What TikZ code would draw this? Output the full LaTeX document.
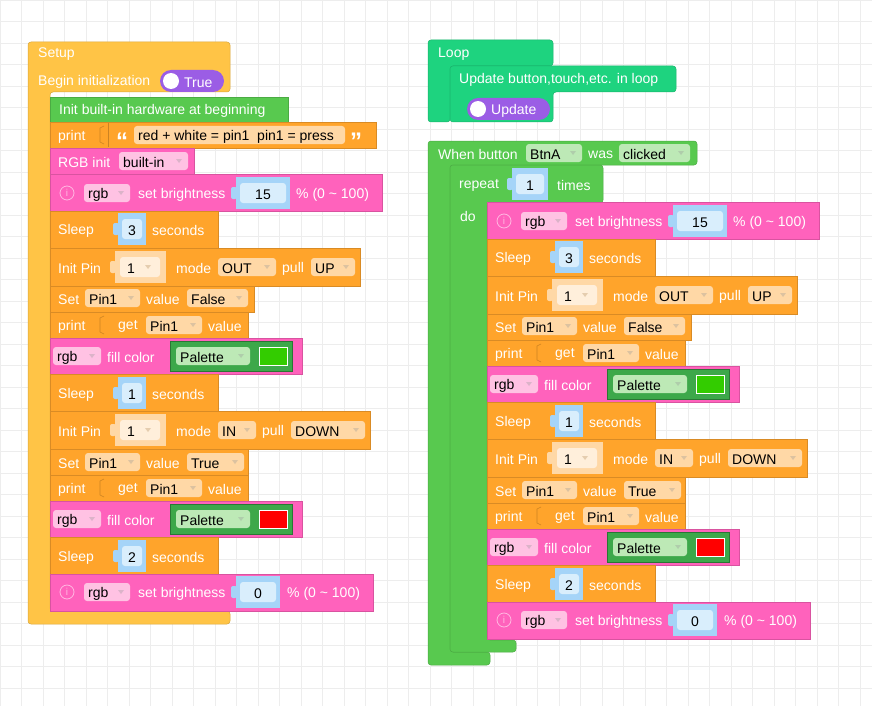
\documentclass[tikz,border=0pt]{standalone}
\usepackage{fontspec}
\setmainfont{Liberation Sans}
\begin{document}
\definecolor{cOr}{HTML}{FFA42B}
\definecolor{cYe}{HTML}{FFC446}
\definecolor{cGr}{HTML}{58C94F}
\definecolor{cPk}{HTML}{FF62BC}
\definecolor{cTe}{HTML}{1ED37F}
\definecolor{cPu}{HTML}{9B5DE5}
\definecolor{cBl}{HTML}{A5D4F8}
\definecolor{cBi}{HTML}{D9EEFC}
\definecolor{dOr}{HTML}{FFD8A6}
\definecolor{dPk}{HTML}{FFC2E3}
\definecolor{dGr}{HTML}{BDE9B6}
\definecolor{cPal}{HTML}{3DA84A}
\definecolor{cGrn}{HTML}{33CC00}
\tikzset{txt/.style={anchor=west,inner sep=0pt,yshift=-1.5pt,text=white,font=\fontsize{14}{16}\selectfont},
 btx/.style={anchor=west,inner sep=0pt,yshift=-1.5pt,text=black,font=\fontsize{14}{16}\selectfont},
 quo/.style={anchor=west,inner sep=0pt,text=white,font=\fontsize{24}{24}\selectfont\bfseries},
 blk/.style={draw=#1!85!black,line width=0.5pt,fill=#1}}
\newcommand\Blk[5]{\path[blk=#1] (#2,#3) rectangle (#4,#5);}
\newcommand\Tx[3]{\node[txt] at (#1,#2) {#3};}
\newcommand\Dd[5]{\fill[#5,rounded corners=3pt] (#1,#3-9) rectangle (#2,#3+9);
 \node[btx] at (#1+4,#3) {#4};
 \fill[white!60!#5!70!black,opacity=0.45] (#2-12,#3-2) -- (#2-6,#3-2) -- (#2-9,#3+2) -- cycle;}
\newcommand\Nm[4]{\fill[cBl] (#1,#3-16) rectangle (#2,#3+16);
 \fill[cBl,rounded corners=2pt] (#1-5,#3-6) rectangle (#1+1,#3+6);
 \fill[cBi,rounded corners=3pt] (#1+4,#3-10) rectangle (#2-4,#3+10);
 \node[btx,anchor=center] at ({(#1+#2)/2},#3) {#4};}
\newcommand\Pn[3]{\fill[dOr] (#1,#2-16) rectangle (#1+51,#2+16);
 \fill[dOr,rounded corners=2pt] (#1-5,#2-6) rectangle (#1+1,#2+6);
 \fill[white!60!dOr,rounded corners=3pt] (#1+5,#2-10) rectangle (#1+45,#2+10);
 \node[btx] at (#1+12,#2) {#3};
 \fill[dOr!80!black,opacity=0.5] (#1+30,#2-2) -- (#1+36,#2-2) -- (#1+33,#2+2) -- cycle;}
\newcommand\Inf[1]{\draw[white!55!cPk,line width=0.8pt] (67,#1) circle (7);
 \node[text=white!55!cPk,inner sep=0,font=\fontsize{10}{10}\selectfont] at (67,#1) {i};}
\newcommand\Tg[4]{\fill[cPu,rounded corners=11pt] (#1,#3-11) rectangle (#2,#3+11);
 \fill[white] (#1+11,#3) circle (8);
 \node[txt] at (#1+24,#3) {#4};}
\newcommand\Bright[3]{% y top bottom
 \Blk{cPk}{50}{#2}{382}{#3}
 \Inf{#1}\Dd{84}{130}{#1}{rgb}{dPk}\Tx{138}{#1}{set brightness}}
\newcommand\Fill[3]{\Blk{cPk}{50}{#1}{302}{#2}
 \Dd{53}{101}{#3}{rgb}{dPk}\Tx{107}{#3}{fill color}}
\newcommand\Getrow[2]{\Blk{cOr}{50}{#1}{248}{#1+26}\Tx{58}{#2}{print}
 \draw[cOr!80!black,line width=0.6pt] (104,#1+4) -- (100,#1+6) -- (100,#1+20) -- (104,#1+22);
 \Tx{118}{#2}{get}\Dd{146}{202}{#2}{Pin1}{dOr}\Tx{208}{#2}{value}}
\newcommand\Pal[3]{\path[draw=cPal!70!black,fill=cPal] (170,#1-15) rectangle (292,#1+15);
 \Dd{176}{250}{#1}{Palette}{dGr}
 \path[draw=white,fill=#2] (259,#1-9) rectangle (287,#1+9);}
\newcommand\Seq{%
 \Bright{193}{174}{211}\Nm{236}{290}{193}{15}\Tx{296}{193}{\% (0 \textasciitilde{} 100)}
 \Blk{cOr}{50}{211}{218}{248}\Tx{58}{229}{Sleep}\Nm{118}{146}{229}{3}\Tx{152}{229}{seconds}
 \Blk{cOr}{50}{248}{360}{286}\Tx{58}{267}{Init Pin}\Pn{115}{267}{1}\Tx{176}{267}{mode}
  \Dd{218}{276}{267}{OUT}{dOr}\Tx{282}{267}{pull}\Dd{311}{355}{267}{UP}{dOr}
 \Blk{cOr}{50}{286}{254}{312}\Tx{58}{298}{Set}\Dd{85}{140}{298}{Pin1}{dOr}\Tx{146}{298}{value}\Dd{187}{248}{298}{False}{dOr}
 \Getrow{312}{325}
 \Fill{338}{374}{356}\Pal{356}{cGrn}{}
 \Blk{cOr}{50}{374}{218}{411}\Tx{58}{393}{Sleep}\Nm{118}{146}{393}{1}\Tx{152}{393}{seconds}
 \Blk{cOr}{50}{411}{370}{449}\Tx{58}{430}{Init Pin}\Pn{115}{430}{1}\Tx{176}{430}{mode}
  \Dd{218}{256}{430}{IN}{dOr}\Tx{262}{430}{pull}\Dd{291}{365}{430}{DOWN}{dOr}
 \Blk{cOr}{50}{449}{248}{475}\Tx{58}{462}{Set}\Dd{85}{140}{462}{Pin1}{dOr}\Tx{146}{462}{value}\Dd{187}{244}{462}{True}{dOr}
 \Getrow{475}{488}
 \Fill{501}{537}{519}\Pal{519}{red}{}
 \Blk{cOr}{50}{537}{218}{574}\Tx{58}{556}{Sleep}\Nm{118}{146}{556}{2}\Tx{152}{556}{seconds}
 \Blk{cPk}{50}{574}{373}{611}\Inf{592}\Dd{84}{130}{592}{rgb}{dPk}\Tx{138}{592}{set brightness}
  \Nm{236}{280}{592}{0}\Tx{287}{592}{\% (0 \textasciitilde{} 100)}}
\begin{tikzpicture}[x=1pt,y=-1pt]
\useasboundingbox (0,0) rectangle (872,706);
\fill[white] (0,0) rectangle (872,706);
\draw[black!7,step=21.5pt] (0,0) grid (872,706);
% Setup
\path[blk=cYe,rounded corners=3pt] (28,42) -- (230,42) -- (230,92) -- (50,92) -- (50,611) -- (230,611) -- (230,624) -- (28,624) -- cycle;
\Tx{38}{53}{Setup}\Tx{38}{80}{Begin initialization}\Tg{160}{224}{81}{True}
\Blk{cGr}{50}{97}{288}{122}\Tx{59}{109}{Init built-in hardware at beginning}
\Blk{cOr}{50}{122}{376}{148}\Tx{58}{135}{print}
\draw[cOr!80!black,line width=0.6pt] (104,126) -- (100,128) -- (100,142) -- (104,144);
\draw[cOr!80!black,line width=0.5pt] (108,123) -- (108,147);
\node[quo] at (116,141) {“};
\fill[dOr,rounded corners=3pt] (134,126) rectangle (345,144);\node[btx] at (138,135) {red + white = pin1\ \ pin1 = press};
\node[quo] at (350,141) {”};
\Blk{cPk}{50}{148}{194}{174}\Tx{58}{161}{RGB init}\Dd{119}{188}{161}{built-in}{dPk}
\Seq
% Loop
\path[blk=cTe,rounded corners=3pt] (428,40) -- (553,40) -- (553,66) -- (450,66) -- (450,122) -- (428,122) -- cycle;
\path[blk=cTe,rounded corners=3pt] (450,66) -- (676,66) -- (676,92) -- (553,92) -- (553,122) -- (450,122) -- cycle;
\Tx{438}{53}{Loop}\Tx{459}{78}{Update button,touch,etc. in loop}\Tg{467}{550}{109}{Update}
% When button
\path[blk=cGr,rounded corners=3pt] (428,141) -- (697,141) -- (697,165) -- (450,165) -- (450,652) -- (490,652) -- (490,665) -- (428,665) -- cycle;
\Tx{438}{153}{When button}\Dd{526}{582}{153}{BtnA}{dGr}\Tx{588}{153}{was}\Dd{619}{690}{153}{clicked}{dGr}
\path[blk=cGr,rounded corners=3pt] (450,165) -- (603,165) -- (603,203) -- (487,203) -- (487,640) -- (516,640) -- (516,652) -- (450,652) -- cycle;
\Tx{459}{184}{repeat}\Nm{512}{548}{184}{1}\Tx{557}{184}{times}\Tx{460}{215}{do}
\begin{scope}[shift={(437,28)}]
\Seq
\end{scope}
\end{tikzpicture}
\end{document}
